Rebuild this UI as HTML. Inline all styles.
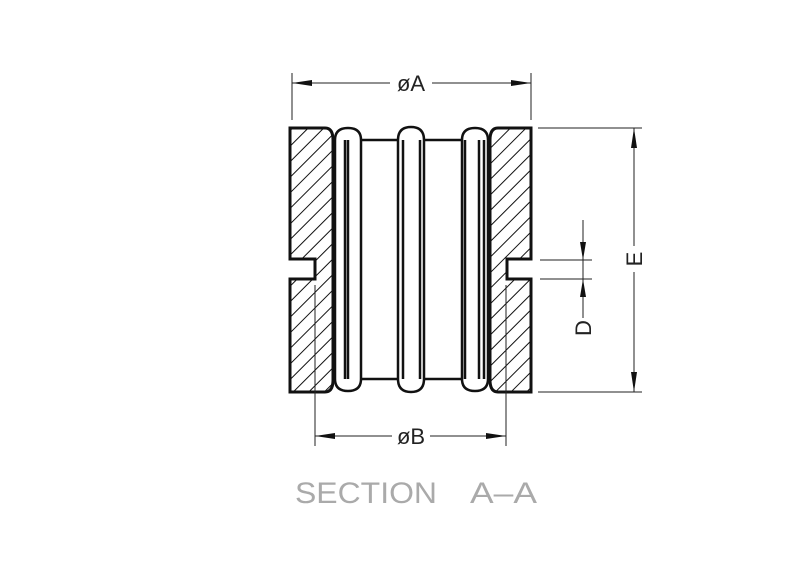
<!DOCTYPE html>
<html><head><style>html,body{margin:0;padding:0;background:#fff}svg{display:block}</style></head>
<body>
<svg width="800" height="576" viewBox="0 0 800 576" xmlns="http://www.w3.org/2000/svg">
<defs>
<pattern id="h" patternUnits="userSpaceOnUse" width="11" height="11" patternTransform="rotate(45)">
<line x1="0" y1="0" x2="0" y2="11" stroke="#111" stroke-width="2"/>
</pattern>
</defs>
<g stroke="#111" stroke-width="3" fill="url(#h)" stroke-linejoin="miter">
<path d="M290,128 H325 Q333,128 333,140 V380 Q333,392 325,392 H290 V279 H315 V259 H290 Z"/>
<path d="M531,128 H498 Q490,128 490,140 V380 Q490,392 498,392 H531 V279 H507 V259 H531 Z"/>
</g>
<g stroke="#111" stroke-width="2.5" fill="none">
<line x1="361" y1="140" x2="398" y2="140"/><line x1="424" y1="140" x2="462" y2="140"/>
<line x1="361" y1="379" x2="398" y2="379"/><line x1="424" y1="379" x2="462" y2="379"/>
<path d="M335,140 Q335,128 348,128 Q361,128 361,140 V379 Q361,391 348,391 Q335,391 335,379 Z"/>
<line x1="345" y1="140" x2="345" y2="379"/><line x1="348" y1="140" x2="348" y2="379"/>
<path d="M398,140 Q398,127 411,127 Q424,127 424,140 V379 Q424,392 411,392 Q398,392 398,379 Z"/>
<line x1="403" y1="140" x2="403" y2="379"/><line x1="420" y1="140" x2="420" y2="379"/>
<path d="M462,140 Q462,128 475,128 Q488,128 488,140 V379 Q488,391 475,391 Q462,391 462,379 Z"/>
<line x1="465" y1="140" x2="465" y2="379"/><line x1="479" y1="140" x2="479" y2="379"/><line x1="484" y1="140" x2="484" y2="379"/>
</g>
<g stroke="#222" stroke-width="1" fill="none">
<line x1="292" y1="73" x2="292" y2="120"/><line x1="531" y1="73" x2="531" y2="120"/>
<line x1="292" y1="83" x2="390" y2="83"/><line x1="432" y1="83" x2="531" y2="83"/>
<line x1="315" y1="285" x2="315" y2="446"/><line x1="506" y1="285" x2="506" y2="446"/>
<line x1="315" y1="436" x2="392" y2="436"/><line x1="430" y1="436" x2="506" y2="436"/>
<line x1="538" y1="128" x2="642" y2="128"/><line x1="538" y1="392" x2="642" y2="392"/>
<line x1="634" y1="128" x2="634" y2="246"/><line x1="634" y1="272" x2="634" y2="392"/>
<line x1="540" y1="260" x2="592" y2="260"/><line x1="540" y1="279" x2="592" y2="279"/>
<line x1="583" y1="220" x2="583" y2="279"/><line x1="583" y1="260" x2="583" y2="318"/>
</g>
<g fill="#111">
<polygon points="292,83 312,80 312,86"/><polygon points="531,83 511,80 511,86"/>
<polygon points="315,436 335,433 335,439"/><polygon points="506,436 486,433 486,439"/>
<polygon points="634,128 631,148 637,148"/><polygon points="634,392 631,372 637,372"/>
<polygon points="583,260 580,242 586,242"/><polygon points="583,279 580,297 586,297"/>
</g>
<g font-family="Liberation Sans, sans-serif" fill="#222" font-size="22">
<text x="411" y="91" text-anchor="middle">øA</text>
<text x="411" y="444" text-anchor="middle">øB</text>
<text transform="translate(642,259) rotate(-90)" text-anchor="middle">E</text>
<text transform="translate(591,328) rotate(-90)" text-anchor="middle">D</text>
</g>
<g font-family="Liberation Sans Narrow, Liberation Sans, sans-serif" font-size="30" fill="#aaa">
<text x="295" y="503" textLength="142" lengthAdjust="spacingAndGlyphs">SECTION</text>
<text x="470" y="503" textLength="67" lengthAdjust="spacingAndGlyphs">A–A</text>
</g>
</svg>
</body></html>
